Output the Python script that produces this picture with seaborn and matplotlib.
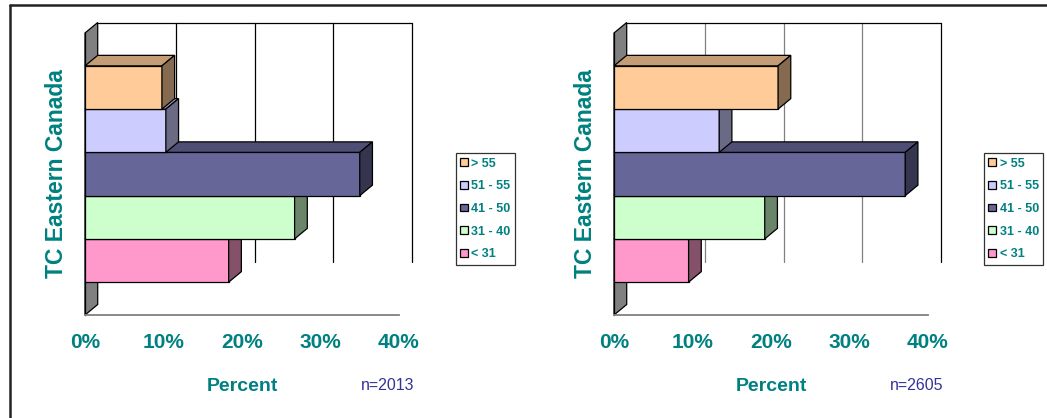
import pandas as pd
import seaborn as sns
import matplotlib.pyplot as plt
from matplotlib.patches import Polygon
from matplotlib.lines import Line2D
from matplotlib.colors import to_rgb

# chart data
region = 'TC Eastern Canada'
age_groups = ['> 55', '51 - 55', '41 - 50', '31 - 40', '< 31']
pct_left = [9.8, 10.3, 35.0, 26.7, 18.3]
pct_right = [20.9, 13.4, 37.1, 19.2, 9.5]
n_labels = ['n=2013', 'n=2605']
x_ticks = [0, 10, 20, 30, 40]

bar_colors = ['#FFCC99', '#CCCCFF', '#666699', '#CCFFCC', '#FF99CC']
teal = '#008080'
navy = '#333399'

sns.set_style('white')
plt.rcParams['font.family'] = ['Liberation Sans', 'DejaVu Sans']

W, H = 1047, 418
fig = plt.figure(figsize=(W / 100, H / 100), dpi=100)

# pseudo-3d depth in pixels
DX_PX, DY_PX = 12.7, 10.5
AX_W, AX_H = 314, 282


def shade(c, f):
    r, g, b = to_rgb(c)
    return (r * f, g * f, b * f)


def draw_panel(ax, values, n_label, grid_color, legend_left):
    df = pd.DataFrame({'group': region, 'age': age_groups, 'pct': values})
    sns.barplot(data=df, x='pct', y='group', hue='age', hue_order=age_groups,
                palette=dict(zip(age_groups, bar_colors)), width=0.767, saturation=1,
                edgecolor='black', linewidth=0.9, ax=ax)
    ax.set_xlim(0, 40)
    ax.set_ylim(0.5, -0.5)
    dx = DX_PX / AX_W * 40
    dy = DY_PX / AX_H

    # back wall grid + side wall
    y_end = (261.7 - 33) / AX_H - 0.5
    for t in x_ticks[1:]:
        c = 'black' if t == x_ticks[-1] else grid_color
        ax.plot([t + dx, t + dx], [-0.5 - dy, y_end], color=c, lw=0.9,
                zorder=0.5, clip_on=False)
    ax.plot([dx, 40 + dx], [-0.5 - dy, -0.5 - dy], color='black', lw=0.9,
            zorder=0.5, clip_on=False)
    ax.add_patch(Polygon([(0, -0.5), (dx, -0.5 - dy), (dx, 0.5 - dy), (0, 0.5)],
                         closed=True, facecolor='#808080', edgecolor='black',
                         lw=0.9, zorder=1, clip_on=False))

    # 3d faces on each bar, top bars drawn last
    n = len(ax.containers)
    for i, cont in enumerate(ax.containers):
        z = 10 + (n - i) * 3
        for bar in cont:
            x0 = bar.get_x()
            x1 = x0 + bar.get_width()
            y0 = bar.get_y()
            y1 = y0 + bar.get_height()
            col = bar.get_facecolor()
            bar.set_zorder(z)
            ax.add_patch(Polygon([(x0, y0), (x1, y0), (x1 + dx, y0 - dy), (x0 + dx, y0 - dy)],
                                 closed=True, facecolor=shade(col, 0.77), edgecolor='black',
                                 lw=0.9, zorder=z + 1, clip_on=False))
            ax.add_patch(Polygon([(x1, y0), (x1, y1), (x1 + dx, y1 - dy), (x1 + dx, y0 - dy)],
                                 closed=True, facecolor=shade(col, 0.52), edgecolor='black',
                                 lw=0.9, zorder=z + 1, clip_on=False))

    for s in ['top', 'right']:
        ax.spines[s].set_visible(False)
    ax.spines['left'].set_color('black')
    ax.spines['left'].set_linewidth(0.9)
    ax.spines['bottom'].set_color('#808080')
    ax.spines['bottom'].set_linewidth(1.3)

    ax.set_xticks(x_ticks, labels=[f'{t}%' for t in x_ticks])
    ax.tick_params(axis='x', direction='out', length=5, color='#808080', width=1,
                   pad=8, labelsize=15, labelcolor=teal)
    for lbl in ax.get_xticklabels():
        lbl.set_fontweight('bold')

    ax.set_yticks([-0.5, 0.5], labels=['', ''])
    ax.set_yticks([0], labels=[region], minor=True)
    ax.tick_params(axis='y', which='major', direction='out', length=5, color='#808080')
    ax.tick_params(axis='y', which='minor', length=0, pad=12, labelsize=16.5,
                   labelcolor=teal, labelrotation=90)
    for lbl in ax.get_yticklabels(minor=True):
        lbl.set_fontweight('bold')
        lbl.set_va('center')

    ax.set_ylabel('')
    ax.set_xlabel('Percent', fontsize=14, fontweight='bold', color=teal, labelpad=19)
    ax.text(0.965, -0.25, n_label, transform=ax.transAxes, ha='center', va='center',
            fontsize=11.5, color=navy)

    sns.move_legend(ax, 'upper left', bbox_to_anchor=(legend_left, (H - 153.3) / H),
                    bbox_transform=fig.transFigure, title=None, frameon=True,
                    fancybox=False, borderaxespad=0, fontsize=9, handlelength=0.6,
                    handleheight=0.6, handletextpad=0.3, labelspacing=0.85,
                    borderpad=0.35)
    leg = ax.get_legend()
    leg.get_frame().set_edgecolor('black')
    leg.get_frame().set_linewidth(0.9)
    for t in leg.get_texts():
        t.set_color(teal)
        t.set_fontweight('bold')


ax1 = fig.add_axes([85 / W, (H - 315) / H, AX_W / W, AX_H / H])
ax2 = fig.add_axes([614 / W, (H - 315) / H, AX_W / W, AX_H / H])
ax1.set_facecolor('none')
ax2.set_facecolor('none')

draw_panel(ax1, pct_left, n_labels[0], 'black', 455.7 / W)
draw_panel(ax2, pct_right, n_labels[1], '#808080', 984 / W)

# outer frame (top and left edges)
fig.add_artist(Line2D([10 / W, 1.0], [(H - 5) / H, (H - 5) / H], color='#222222', lw=1.8,
                      transform=fig.transFigure))
fig.add_artist(Line2D([10 / W, 10 / W], [0, (H - 5) / H], color='#222222', lw=1.8,
                      transform=fig.transFigure))

fig.savefig('out.png', dpi=100)
